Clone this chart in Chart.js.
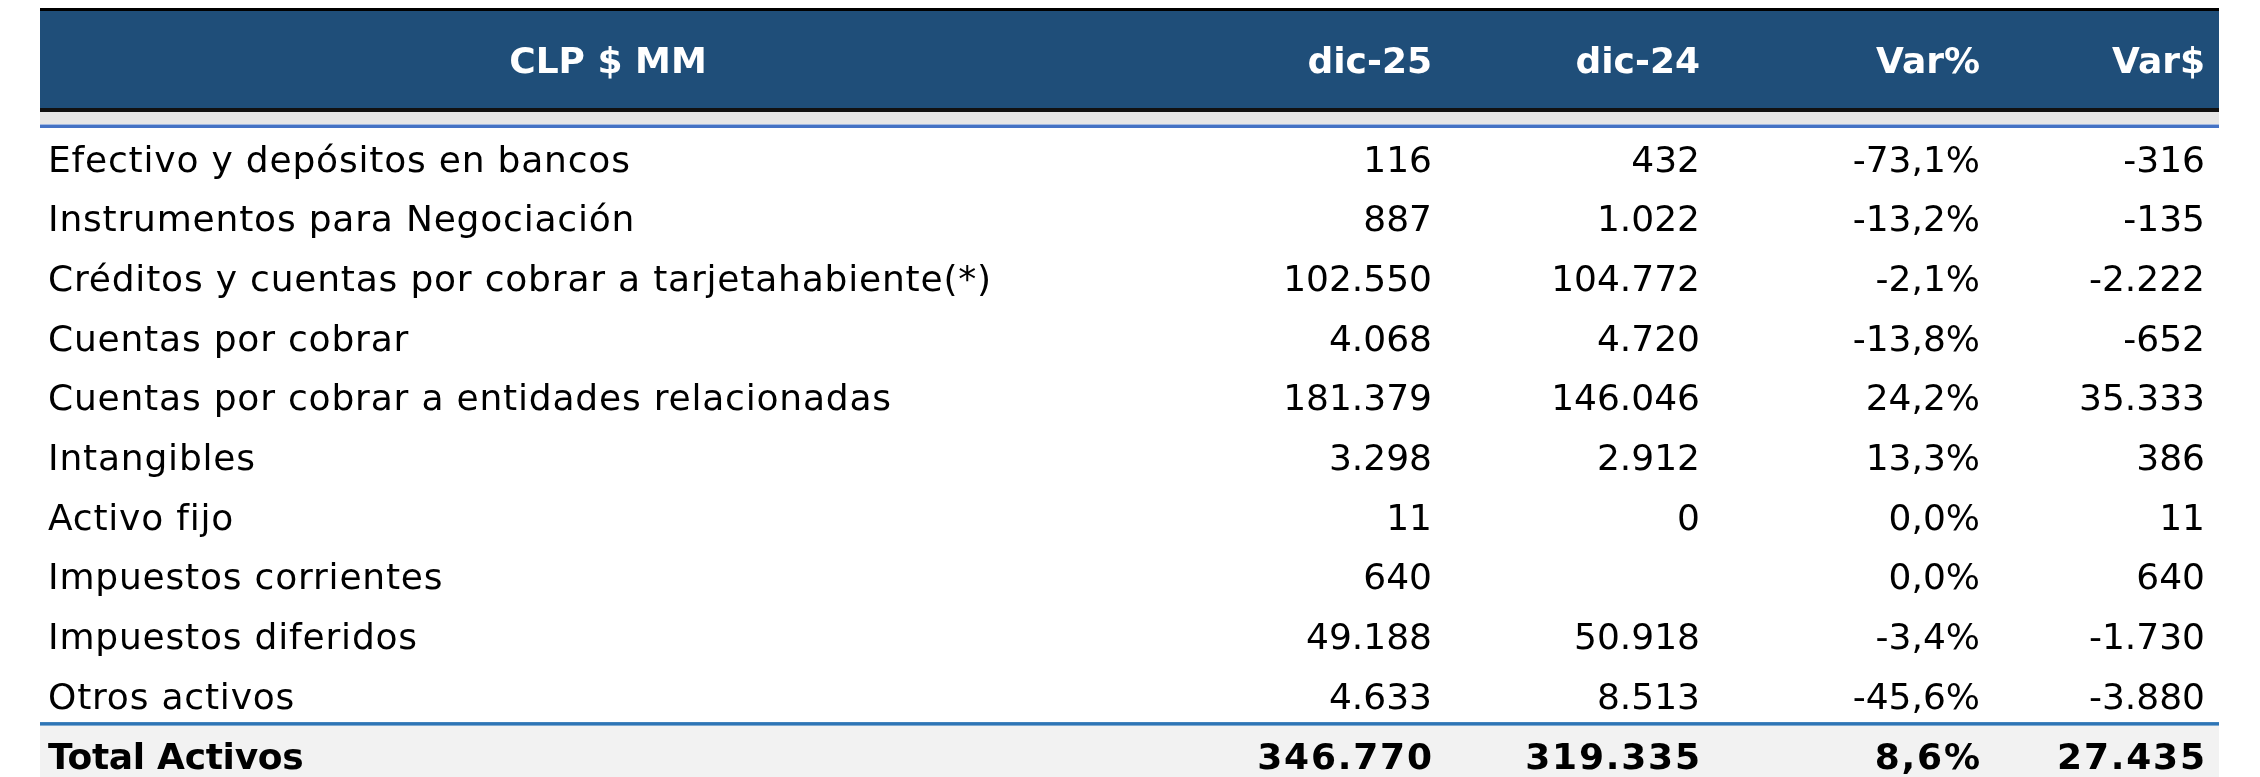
<!DOCTYPE html>
<html>
<head>
<meta charset="utf-8">
<script src="https://cdn.jsdelivr.net/npm/chart.js@4.4.1/dist/chart.umd.min.js"></script>
<style>
  html, body { margin: 0; padding: 0; background: #fff; }
  #wrap { width: 2260px; height: 777px; }
</style>
</head>
<body>
<div id="wrap"><canvas id="chart1"></canvas></div>
<script>
// table data
let headerLabels = ['CLP $ MM', 'dic-25', 'dic-24', 'Var%', 'Var$'];
let rowLabels = [
  'Efectivo y depósitos en bancos',
  'Instrumentos para Negociación',
  'Créditos y cuentas por cobrar a tarjetahabiente(*)',
  'Cuentas por cobrar',
  'Cuentas por cobrar a entidades relacionadas',
  'Intangibles',
  'Activo fijo',
  'Impuestos corrientes',
  'Impuestos diferidos',
  'Otros activos',
  'Total Activos',
];
let dic25 = [116, 887, 102550, 4068, 181379, 3298, 11, 640, 49188, 4633, 346770];
let dic24 = [432, 1022, 104772, 4720, 146046, 2912, 0, null, 50918, 8513, 319335];
let varPct = [-73.1, -13.2, -2.1, -13.8, 24.2, 13.3, 0.0, 0.0, -3.4, -45.6, 8.6];
let varAbs = [-316, -135, -2222, -652, 35333, 386, 11, 640, -1730, -3880, 27435];

// layout (x axis units = px from table left edge)
let colAnchor = [8, 1392, 1660, 1940, 2165];
let colAlign = ['left', 'right', 'right', 'right', 'right'];
let headerCenterX = 568;
let fontSize = 36;
let fontFamily = '"DejaVu Sans", Verdana, sans-serif';

function fmtInt(v) {
  if (v === null || v === undefined) return '';
  let s = Math.abs(v).toString();
  let out = '';
  while (s.length > 3) {
    out = '.' + s.slice(-3) + out;
    s = s.slice(0, -3);
  }
  out = s + out;
  return (v < 0 ? '-' : '') + out;
}

function fmtPct(v) {
  return v.toFixed(1).replace('.', ',') + '%';
}

let columns = [
  rowLabels,
  dic25.map(fmtInt),
  dic24.map(fmtInt),
  varPct.map(fmtPct),
  varAbs.map(fmtInt),
];

// letter spacing tweaks so DejaVu widths come close to the original font
function spacingFor(col, bold) {
  if (col === 0) return bold ? -0.3 : 0.8;
  return bold ? 1.8 : 0;
}

const tablePlugin = {
  id: 'tablePlugin',
  afterDatasetsDraw(chart) {
    const ctx = chart.ctx;
    const area = chart.chartArea;
    const x = chart.scales.x;
    const y = chart.scales.y;
    const left = area.left;
    const right = area.right;
    ctx.save();

    // header band
    ctx.fillStyle = '#000000';
    ctx.fillRect(left, 8, right - left, 3);
    ctx.fillStyle = '#1F4E79';
    ctx.fillRect(left, 11, right - left, 97);
    ctx.fillStyle = '#111111';
    ctx.fillRect(left, 108, right - left, 4);
    ctx.fillStyle = '#E6E6E6';
    ctx.fillRect(left, 112, right - left, 12);
    ctx.fillStyle = '#4472C4';
    ctx.fillRect(left, 124.5, right - left, 3.5);

    // total row background + separator
    const lastRow = rowLabels.length - 1;
    const sepY = y.getPixelForValue(lastRow - 0.5);
    ctx.fillStyle = '#F2F2F2';
    ctx.fillRect(left, sepY, right - left, area.bottom - sepY);
    ctx.fillStyle = '#2E75B6';
    ctx.fillRect(left, sepY - 3.5, right - left, 3.5);

    // header text
    const capOff = fontSize * 0.364;
    ctx.font = 'bold ' + fontSize + 'px ' + fontFamily;
    ctx.fillStyle = '#ffffff';
    ctx.textBaseline = 'alphabetic';
    headerLabels.forEach((h, c) => {
      if (c === 0) {
        ctx.textAlign = 'center';
        ctx.fillText(h, x.getPixelForValue(headerCenterX), 59.5 + capOff);
      } else {
        ctx.textAlign = 'right';
        ctx.fillText(h, x.getPixelForValue(colAnchor[c]), 59.5 + capOff);
      }
    });

    // cells
    chart.data.datasets.forEach((ds, c) => {
      const meta = chart.getDatasetMeta(c);
      meta.data.forEach((pt, r) => {
        const bold = r === lastRow;
        const sp = spacingFor(c, bold);
        ctx.font = (bold ? 'bold ' : '') + fontSize + 'px ' + fontFamily;
        ctx.letterSpacing = sp + 'px';
        ctx.fillStyle = '#000000';
        ctx.textAlign = colAlign[c];
        const px = colAlign[c] === 'right' ? pt.x + sp : pt.x;
        ctx.fillText(columns[c][r], px, pt.y + capOff);
      });
    });
    ctx.letterSpacing = '0px';
    ctx.restore();
  },
};

function createTable() {
  const ctx = document.getElementById('chart1').getContext('2d');
  const datasets = columns.map((col, c) => ({
    label: headerLabels[c],
    data: col.map((_, r) => ({ x: colAnchor[c], y: r })),
    pointRadius: 0,
    pointHoverRadius: 0,
  }));

  new Chart(ctx, {
    type: 'scatter',
    data: { datasets: datasets },
    options: {
      responsive: true,
      maintainAspectRatio: false,
      animation: false,
      events: [],
      layout: { padding: { top: 128.6, left: 40, right: 41, bottom: 0 } },
      plugins: { legend: { display: false }, tooltip: { enabled: false } },
      scales: {
        x: { type: 'linear', display: false, min: 0, max: 2179 },
        y: { type: 'linear', display: false, reverse: true, min: -0.5, max: 10.361 },
      },
    },
    plugins: [tablePlugin],
  });
}

createTable();
</script>
</body>
</html>
